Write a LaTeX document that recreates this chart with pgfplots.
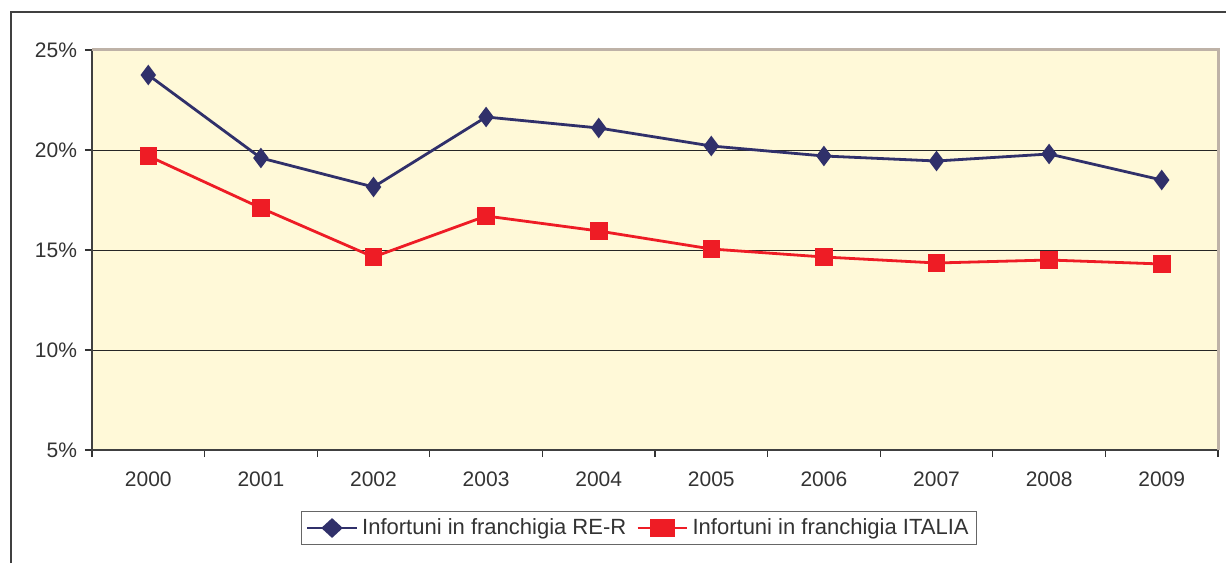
\documentclass[border=0pt]{standalone}
\usepackage{pgfplots}
\pgfplotsset{compat=1.18}
\usepackage{fontspec}
\setmainfont{Liberation Sans}
\definecolor{bgyel}{HTML}{FFF9D8}
\definecolor{navy}{HTML}{30306A}
\definecolor{redl}{HTML}{EE1C25}
\definecolor{txt}{HTML}{333333}
\begin{document}
\begin{tikzpicture}
\useasboundingbox (0,0) rectangle (613pt,281.5pt);
\draw[black!75, line width=0.7pt] (5.5pt,0) -- (5.5pt,275.5pt) -- (613pt,275.5pt);
\begin{axis}[
  name=ax,
  at={(46pt,56.5pt)}, anchor=south west,
  scale only axis, width=563pt, height=200pt,
  xmin=-0.5, xmax=9.5, ymin=5, ymax=25,
  axis line style={draw=none},
  axis background/.style={fill=bgyel},
  xtick={0,...,9},
  xticklabels={2000,2001,2002,2003,2004,2005,2006,2007,2008,2009},
  major x tick style={draw=none},
  minor xtick={-0.5,0.5,...,9.5},
  minor tick length=3.5pt,
  ytick={5,10,15,20,25},
  yticklabels={5\%,10\%,15\%,20\%,25\%},
  major tick length=3.5pt,
  tick align=outside,
  xtick pos=bottom, ytick pos=left,
  tick style={black!80, line width=0.6pt},
  ymajorgrids, grid style={black!85, line width=0.4pt},
  ticklabel style={font=\fontsize{10.5}{12}\selectfont, text=txt},
  xticklabel style={yshift=-4pt},
  yticklabel style={xshift=-0.5pt},
  legend style={at={(0.486,-0.195)}, anchor=center, legend columns=2,
    draw=black!60, line width=0.5pt, font=\fontsize{11}{13}\selectfont, text=txt,
    inner xsep=2pt, inner ysep=1.5pt, /tikz/every even column/.append style={column sep=3pt}},
  legend image post style={xscale=1.45},
]
\addplot[navy, line width=1.4pt, mark=diamond*, mark size=4pt, mark options={fill=navy, draw=navy}]
 coordinates {(0,23.75)(1,19.6)(2,18.15)(3,21.65)(4,21.1)(5,20.2)(6,19.7)(7,19.45)(8,19.8)(9,18.5)};
\addlegendentry{Infortuni in franchigia RE-R}
\addplot[redl, line width=1.4pt, mark=square*, mark size=3.7pt, mark options={fill=redl, draw=redl}]
 coordinates {(0,19.7)(1,17.1)(2,14.65)(3,16.7)(4,15.95)(5,15.05)(6,14.65)(7,14.35)(8,14.5)(9,14.3)};
\addlegendentry{Infortuni in franchigia ITALIA}
\end{axis}
\draw[black!75, line width=1pt] (ax.north west) -- (ax.south west) -- (ax.south east);
\draw[gray!70!brown!60, line width=1.5pt] (ax.north west) -- (ax.north east) -- (ax.south east);
\end{tikzpicture}
\end{document}
